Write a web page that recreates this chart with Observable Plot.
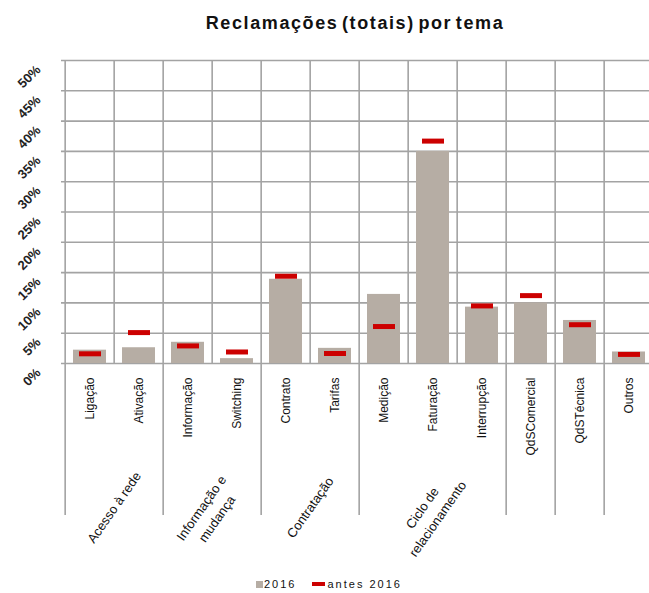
<!DOCTYPE html>
<html><head><meta charset="utf-8">
<script src="https://cdn.jsdelivr.net/npm/d3@7"></script>
<script src="https://cdn.jsdelivr.net/npm/@observablehq/plot@0.6"></script>
<style>
body{margin:0;width:649px;height:593px;overflow:hidden;position:relative;background:#fff;font-family:"Liberation Sans",Arial,sans-serif;}
#title{position:absolute;left:0;top:12px;width:710px;text-align:center;font-weight:bold;font-size:18px;line-height:22px;letter-spacing:1.6px;word-spacing:-3px;color:#111;}
#chart{position:absolute;left:0;top:0;width:658px;height:593px;}
#chart svg{max-width:none !important;}
#legend{position:absolute;top:577px;left:256px;font-size:11px;line-height:14px;letter-spacing:2px;color:#111;white-space:nowrap;}
#legend span.item{display:inline-block;margin-right:16px;}
#legend i{display:inline-block;vertical-align:middle;position:relative;top:-1px;}
</style>
</head><body>
<div id="title">Reclamações (totais) por tema</div>
<div id="chart"></div>
<div id="legend"></div>
<script>
const categories = ["Ligação","Ativação","Informação","Switching","Contrato","Tarifas","Medição","Faturação","Interrupção","QdSComercial","QdSTécnica","Outros"];
const values2016 = [2.2, 2.6, 3.5, 0.8, 13.9, 2.5, 11.4, 35.0, 9.3, 10.0, 7.1, 1.9];
const valuesBefore = [1.6, 5.1, 2.9, 1.9, 14.4, 1.65, 6.1, 36.7, 9.5, 11.2, 6.4, 1.5];
const groupNames = ["Acesso à rede", "Informação e\nmudança", "Contratação", "Ciclo de\nrelacionamento", "", "", ""];
const groupSizes = [2, 2, 2, 3, 1, 1, 1];
const yTicks = [0, 5, 10, 15, 20, 25, 30, 35, 40, 45, 50];
const seriesNames = ["2016", "antes 2016"];
const seriesColors = ["#b6ada4", "#cc0000"];

const W = 658, H = 593, mL = 61, mR = 1, mT = 60, mB = 230;
const bw = (W - mL - mR) / categories.length;
const gridColor = "#a3a3a3";

const rows = categories.map((c, i) => ({cat: c, v: values2016[i], b: valuesBefore[i]}));
let start = 0;
const groups = groupNames.map((g, i) => {
  const o = {name: g, first: categories[start], size: groupSizes[i]};
  start += groupSizes[i];
  return o;
});

const chart = Plot.plot({
  width: W, height: H,
  marginLeft: mL, marginRight: mR, marginTop: mT, marginBottom: mB,
  style: {fontFamily: "'Liberation Sans', Arial, sans-serif", background: "transparent", overflow: "visible", maxWidth: "none"},
  x: {domain: categories, padding: 0, axis: null},
  y: {domain: [0, 50], axis: null},
  marks: [
    Plot.ruleY(yTicks, {y: d => d, stroke: gridColor, strokeWidth: 1.6}),
    Plot.ruleX(categories, {x: d => d, dx: -bw / 2, stroke: gridColor, strokeWidth: 1.6}),
    Plot.ruleX(groups, {x: "first", dx: -bw / 2, insetTop: H - mT - mB, insetBottom: -152, stroke: gridColor, strokeWidth: 1.6}),
    Plot.barY(rows, {x: "cat", y: "v", fill: seriesColors[0], insetLeft: 8, insetRight: 8}),
    Plot.tickY(rows, {x: "cat", y: "b", stroke: seriesColors[1], strokeWidth: 5, insetLeft: 14, insetRight: 13}),
    Plot.text(yTicks, {y: d => d, frameAnchor: "left", text: d => d + "%", dx: -23, dy: 7, rotate: -45, textAnchor: "end", fontWeight: "bold", fontSize: 13, fill: "#222", ariaLabel: "ylabels"}),
    Plot.text(categories, {x: d => d, y: 0, text: d => d, dy: 14, rotate: -90, textAnchor: "end", fontSize: 12, fill: "#111", ariaLabel: "catlabels"}),
    ...groups.filter(g => g.name).map(g => {
      const twoLines = g.name.includes("\n");
      return Plot.text([g], {x: "first", y: 0, text: "name", dx: (g.size - 1) * bw / 2 + (twoLines ? -5 : -2), dy: twoLines ? 149 : 143, rotate: -55, textAnchor: "middle", lineAnchor: "middle", lineHeight: 1.45, fontSize: 13, fill: "#111", ariaLabel: "grouplabels"});
    })
  ]
});
chart.style.maxWidth = "none";
document.getElementById("chart").appendChild(chart);
d3.select(chart).selectAll('g[aria-label="catlabels"] text').style("letter-spacing", "1.8px");
d3.select(chart).selectAll('g[aria-label="grouplabels"] text').style("letter-spacing", "1.1px");
d3.select(chart).selectAll('g[aria-label="ylabels"] text').style("letter-spacing", "1px");

const legend = d3.select("#legend");
seriesNames.forEach((s, i) => {
  const item = legend.append("span").attr("class", "item");
  const sw = item.append("i").style("background", seriesColors[i]);
  if (i === 0) sw.style("width", "7px").style("height", "7px").style("margin-right", "1px");
  else sw.style("width", "13px").style("height", "4px").style("margin-right", "2px");
  item.append("span").text(s);
});
</script>
</body></html>
